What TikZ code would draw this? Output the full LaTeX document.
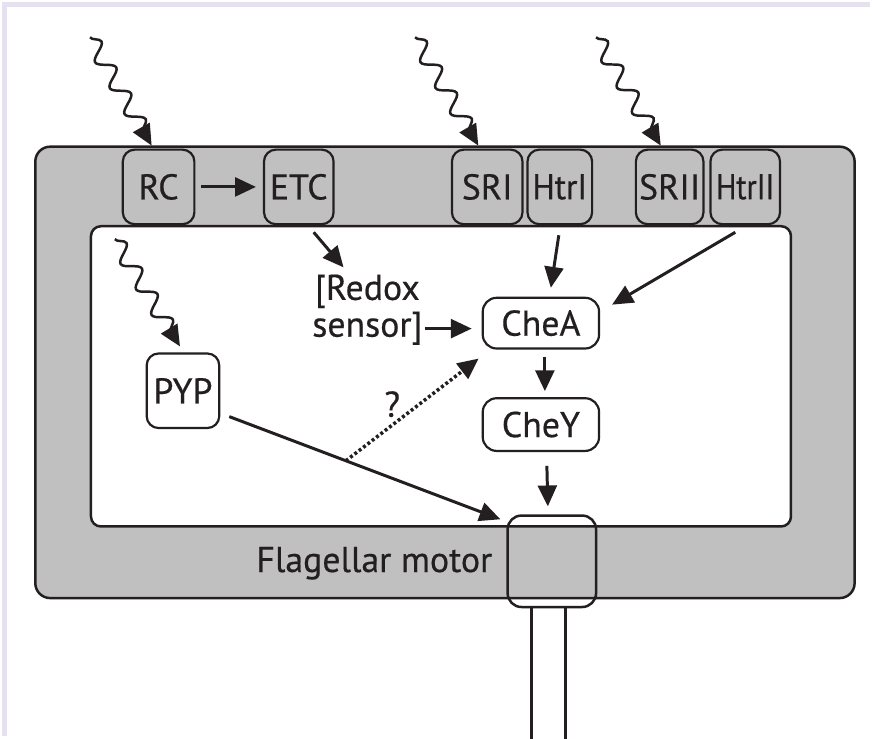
\documentclass[tikz,border=0pt]{standalone}
\usepackage{fontspec}
\setmainfont{PT Sans}
\newfontfamily\lblfont{PT Sans}[FakeBold=0.5]
\usetikzlibrary{arrows.meta,decorations.pathmorphing,calc}
\definecolor{stripecol}{HTML}{E6E1F0}
\definecolor{pagebg}{HTML}{FFFFFF}
\definecolor{memb}{HTML}{C0C0C0}
\definecolor{ink}{HTML}{231F20}
\begin{document}
\begin{tikzpicture}[x=1pt,y=-1pt,
  >={Triangle[length=21pt,width=19pt]},
  lbl/.style={font=\lblfont\fontsize{36}{38}\selectfont, text=ink},
  membox/.style={draw=ink, line width=2.2pt, fill=memb, rounded corners=12pt, minimum height=75pt, inner sep=0pt, lbl},
  whitebox/.style={draw=ink, line width=2.2pt, fill=pagebg, rounded corners=12pt, inner sep=0pt, lbl},
  arr/.style={->, draw=ink, fill=ink, line width=3pt},
  dotarr/.style={->, draw=ink, line width=3.5pt, dash pattern=on 3pt off 2.5pt},
  wavy/.style={->, draw=ink, line width=2.5pt, decorate, decoration={snake, segment length=30pt, amplitude=8pt, post length=16pt}},
]
\path[fill=pagebg] (0,0) rectangle (872,738);
\draw[draw=stripecol, line width=5pt] (0,2.5) -- (872,2.5);
\draw[draw=stripecol, line width=5pt] (2.5,0) -- (2.5,738);
\useasboundingbox (0,0) rectangle (872,738);

% cell membrane and cytoplasm
\draw[draw=ink, fill=memb, rounded corners=15pt, line width=2.5pt] (33,145) rectangle (857,599);
\draw[draw=ink, fill=pagebg, rounded corners=10pt, line width=2.5pt] (89,225) rectangle (793,527);

% membrane proteins
\node[membox, minimum width=72pt] (RC) at (157,185.5) {RC};
\node[membox, minimum width=70pt] (ETC) at (298,185.5) {ETC};
\node[membox, minimum width=71pt] (SRI) at (487.5,185.5) {SRI};
\node[membox, minimum width=65pt] (HtrI) at (560.5,185.5) {\scalebox{0.93}[1]{HtrI}};
\node[membox, minimum width=68pt] (SRII) at (671,185.5) {SRII};
\node[membox, minimum width=70pt] (HtrII) at (747,185.5) {\scalebox{0.84}[1]{HtrII}};

% cytoplasmic components
\node[whitebox, minimum width=73pt, minimum height=75pt] (PYP) at (181.5,390.5) {PYP};
\node[lbl, align=center, inner sep=0pt, font=\lblfont\fontsize{36}{37}\selectfont] (redox) at (367,309) {[Redox\\sensor]};
\node[whitebox, rounded corners=14pt, minimum width=117pt, minimum height=51pt] (CheA) at (541.5,322.5) {CheA};
\node[whitebox, rounded corners=14pt, minimum width=117pt, minimum height=53pt] (CheY) at (541.5,424.5) {CheY};
\node[lbl, inner sep=0pt] (qm) at (392,404) {?};

% flagellar motor
\node[lbl, inner sep=0pt] (fmlabel) at (374,564) {Flagellar motor};
\node[fill=pagebg, minimum width=34pt, minimum height=140pt, inner sep=0pt, anchor=north] (shaft) at (549,607) {};
\draw[draw=ink, line width=2.5pt] (shaft.south west) -- (shaft.north west) (shaft.north east) -- (shaft.south east);
\node[draw=ink, line width=2.5pt, rounded corners=14pt, minimum width=89pt, minimum height=92pt, inner sep=0pt] (motor) at (552.5,562) {};

% light inputs
\coordinate (w1) at (88,35);
\coordinate (w2) at (415,35);
\coordinate (w3) at (597,35);
\coordinate (w4) at (113,238);
\draw[wavy] (w1) -- ($(RC.north)+(-7,-3)$);
\draw[wavy] (w2) -- ($(SRI.north)+(-9,-3)$);
\draw[wavy] (w3) -- ($(SRII.north)+(-9,-3)$);
\draw[wavy] (w4) -- ($(PYP.north)+(-3,-6)$);

% signalling arrows
\draw[arr, shorten <=6pt, shorten >=7pt] (RC) -- (ETC);
\draw[arr] ($(ETC.south)+(15,7)$) -- ($(redox.north)+(-24,-7)$);
\draw[arr] ($(redox.east)+(2,19)$) -- ($(CheA.west |- redox.east)+(-10,19)$);
\draw[arr] ($(HtrI.south)+(-1,10)$) -- ($(CheA.north)+(10,-9)$);
\draw[arr] ($(HtrII.south)+(-10,7)$) -- ($(CheA.north east)+(12,8)$);
\draw[arr] ($(CheA.south)+(4,7)$) -- ($(CheY.north)+(4,-6)$);
\draw[arr] ($(CheY.south)+(6,14)$) -- ($(motor.north)+(-4,-8)$);
\draw[arr] ($(PYP.east)+(9,26)$) -- coordinate[pos=0.43] (q) ($(motor.north west)+(-6,5)$);
\draw[dotarr] (q) -- ($(CheA.south west)+(-3,9)$);
\end{tikzpicture}
\end{document}
